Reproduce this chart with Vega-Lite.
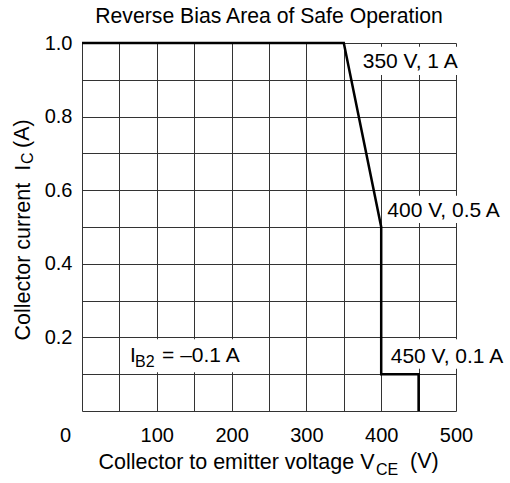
{
  "$schema": "https://vega.github.io/schema/vega-lite/v6.json",
  "width": 374,
  "height": 368,
  "autosize": {"type": "none"},
  "padding": {"left": 82, "top": 43, "right": 54, "bottom": 72},
  "background": "white",
  "config": {
    "font": "Liberation Sans",
    "view": {"stroke": null}
  },
  "title": {
    "text": "Reverse Bias Area of Safe Operation",
    "fontSize": 21.2,
    "fontWeight": "normal",
    "color": "black",
    "font": "Liberation Sans",
    "anchor": "middle",
    "offset": 5.5
  },
  "datasets": {
    "soa": [
      {"seq": 1, "v": 0, "i": 1.0},
      {"seq": 2, "v": 350, "i": 1.0},
      {"seq": 3, "v": 400, "i": 0.5},
      {"seq": 4, "v": 400, "i": 0.1},
      {"seq": 5, "v": 450, "i": 0.1},
      {"seq": 6, "v": 450, "i": 0}
    ],
    "boxes": [
      {"v": 370, "v2": 505, "i": 0.913, "i2": 0.99},
      {"v": 404, "v2": 505, "i": 0.511, "i2": 0.585},
      {"v": 405, "v2": 505, "i": 0.115, "i2": 0.195},
      {"v": 52, "v2": 225, "i": 0.105, "i2": 0.195}
    ],
    "labels": [
      {"v": 375.3, "i": 0.931, "text": "350 V, 1 A"},
      {"v": 408.2, "i": 0.528, "text": "400 V, 0.5 A"},
      {"v": 412.7, "i": 0.1296, "text": "450 V, 0.1 A"},
      {"v": 64.2, "i": 0.134, "text": "I"},
      {"v": 107, "i": 0.134, "text": "= –0.1 A"}
    ],
    "subs": [
      {"v": 70.9, "i": 0.1196, "text": "B2"},
      {"v": 393.0, "i": -0.1739, "text": "CE"}
    ],
    "units": [
      {"v": 438.5, "i": -0.1549, "text": "(V)"}
    ],
    "ysub": [
      {"v": -65.5, "i": 0.671, "text": "C"}
    ],
    "yunits": [
      {"v": -70.86, "i": 0.7147, "text": "(A)"}
    ]
  },
  "encoding": {
    "x": {
      "field": "v",
      "type": "quantitative",
      "scale": {"domain": [0, 500], "nice": false, "zero": false},
      "axis": {
        "values": [0, 50, 100, 150, 200, 250, 300, 350, 400, 450, 500],
        "labelExpr": "datum.value % 100 === 0 ? datum.label : ''",
        "labelOffset": {"condition": {"test": "datum.value === 0", "value": -17}, "value": 0},
        "grid": true,
        "gridColor": "#333333",
        "gridWidth": 1,
        "gridOpacity": 1,
        "domain": false,
        "ticks": false,
        "tickSize": 0,
        "labelPadding": 14,
        "labelFontSize": 20,
        "labelColor": "black",
        "labelFont": "Liberation Sans",
        "labelFlush": false,
        "labelOverlap": false,
        "title": "Collector to emitter voltage V",
        "titleFont": "Liberation Sans",
        "titleFontSize": 21.5,
        "titleFontWeight": "normal",
        "titleColor": "black",
        "titleX": 292,
        "titleY": 57,
        "titleAlign": "right",
        "titleBaseline": "alphabetic"
      }
    },
    "y": {
      "field": "i",
      "type": "quantitative",
      "scale": {"domain": [0, 1], "nice": false, "zero": false},
      "axis": {
        "values": [0, 0.1, 0.2, 0.3, 0.4, 0.5, 0.6, 0.7, 0.8, 0.9, 1.0],
        "labelExpr": "datum.value > 0 && round(datum.value * 10) % 2 === 0 ? format(datum.value, '.1f') : ''",
        "grid": true,
        "gridColor": "#333333",
        "gridWidth": 1,
        "gridOpacity": 1,
        "domain": false,
        "ticks": false,
        "tickSize": 0,
        "labelPadding": 10,
        "labelFontSize": 20,
        "labelColor": "black",
        "labelFont": "Liberation Sans",
        "labelFlush": false,
        "labelOverlap": false,
        "title": "Collector current\u00a0\u00a0I",
        "titleFont": "Liberation Sans",
        "titleFontSize": 21.5,
        "titleFontWeight": "normal",
        "titleColor": "black",
        "titleX": -53,
        "titleY": 297,
        "titleAngle": 270,
        "titleAlign": "left",
        "titleBaseline": "alphabetic"
      }
    }
  },
  "layer": [
    {
      "data": {"name": "boxes"},
      "mark": {"type": "rect", "fill": "white", "stroke": null},
      "encoding": {
        "x2": {"field": "v2"},
        "y2": {"field": "i2"}
      }
    },
    {
      "data": {"name": "soa"},
      "mark": {"type": "line", "color": "black", "strokeWidth": 2.5},
      "encoding": {
        "order": {"field": "seq", "type": "quantitative"}
      }
    },
    {
      "data": {"name": "labels"},
      "mark": {"type": "text", "align": "left", "baseline": "alphabetic", "fontSize": 21, "font": "Liberation Sans", "color": "black"},
      "encoding": {
        "text": {"field": "text"}
      }
    },
    {
      "data": {"name": "subs"},
      "mark": {"type": "text", "align": "left", "baseline": "alphabetic", "fontSize": 16, "font": "Liberation Sans", "color": "black"},
      "encoding": {
        "text": {"field": "text"}
      }
    },
    {
      "data": {"name": "units"},
      "mark": {"type": "text", "align": "left", "baseline": "alphabetic", "fontSize": 21.5, "font": "Liberation Sans", "color": "black"},
      "encoding": {
        "text": {"field": "text"}
      }
    },
    {
      "data": {"name": "ysub"},
      "mark": {"type": "text", "align": "left", "baseline": "alphabetic", "angle": 270, "fontSize": 16, "font": "Liberation Sans", "color": "black"},
      "encoding": {
        "text": {"field": "text"}
      }
    },
    {
      "data": {"name": "yunits"},
      "mark": {"type": "text", "align": "left", "baseline": "alphabetic", "angle": 270, "fontSize": 21.5, "font": "Liberation Sans", "color": "black"},
      "encoding": {
        "text": {"field": "text"}
      }
    }
  ]
}
